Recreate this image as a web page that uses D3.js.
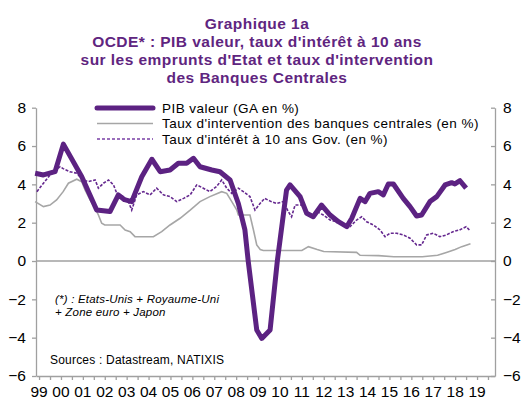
<!DOCTYPE html>
<html>
<head>
<meta charset="utf-8">
<script src="https://cdn.jsdelivr.net/npm/d3@7"></script>
<style>
  body { margin: 0; background: #fff; }
  svg { font-family: 'Liberation Sans', Arial, sans-serif; }
  .title { font-weight: bold; font-size: 15.5px; fill: #5f2580; letter-spacing: 0.45px; }
  .axis text { font-size: 15.5px; fill: #000; }
  .axis path, .axis line { stroke: #a0a0a0; stroke-width: 1.3; }
  .legend { font-size: 13.5px; fill: #000; letter-spacing: 0.45px; }
  .note { font-size: 11.5px; font-style: italic; fill: #000; letter-spacing: 0.2px; }
  .credit { font-size: 12px; fill: #000; letter-spacing: 0.2px; }
</style>
</head>
<body>
<div id="chart"></div>
<script>
var width = 522;
var height = 401;

// PIB valeur (GA en %)
var pibYears = [1998.82, 1999.2, 1999.73, 2000.11, 2000.95, 2001.63, 2002.24, 2002.62, 2002.9, 2003.23,
  2003.69, 2004.15, 2004.53, 2004.98, 2005.36, 2005.74, 2006.05, 2006.35, 2006.89, 2007.26,
  2007.72, 2008.1, 2008.4, 2008.55, 2008.94, 2009.17, 2009.55, 2009.88, 2010.3, 2010.46,
  2010.92, 2011.22, 2011.52, 2011.9, 2012.29, 2012.67, 2013.05, 2013.28, 2013.66, 2013.89,
  2014.11, 2014.49, 2014.72, 2014.95, 2015.18, 2015.63, 2015.94, 2016.24, 2016.47, 2016.85,
  2017.16, 2017.54, 2017.84, 2017.99, 2018.22, 2018.5];
var pibValues = [4.58, 4.49, 4.66, 6.1, 4.4, 2.66, 2.58, 3.45, 3.2, 3.1,
  4.4, 5.31, 4.66, 4.75, 5.1, 5.1, 5.36, 4.92, 4.75, 4.66,
  4.23, 3.0, 1.62, 0.0, -3.6, -4.04, -3.6, 0.0, 3.7, 3.97,
  3.36, 2.49, 2.31, 2.92, 2.4, 2.05, 1.79, 2.23, 3.27, 3.1,
  3.53, 3.62, 3.45, 4.02, 4.02, 3.27, 2.84, 2.35, 2.4, 3.1,
  3.36, 3.97, 4.09, 4.02, 4.19, 3.8];

// Taux d'intervention des banques centrales (en %)
var policyYears = [1998.82, 1999.2, 1999.5, 1999.8, 2000.1, 2000.34, 2000.72, 2000.95, 2001.1, 2001.33,
  2001.56, 2001.71, 2001.86, 2002.0, 2002.7, 2002.93, 2003.16, 2003.38, 2004.22, 2004.6,
  2004.98, 2005.44, 2005.9, 2006.35, 2006.8, 2007.34, 2007.57, 2007.8, 2008.03, 2008.1,
  2008.63, 2008.79, 2008.94, 2009.1, 2009.24, 2011.0, 2011.3, 2011.7, 2012.0, 2013.5,
  2013.66, 2014.5, 2015.2, 2016.5, 2017.2, 2017.6, 2018.0, 2018.3, 2018.7];
var policyValues = [3.1, 2.84, 2.92, 3.19, 3.62, 4.06, 4.27, 4.14, 3.71, 3.19,
  2.75, 2.4, 1.97, 1.88, 1.88, 1.62, 1.53, 1.27, 1.27, 1.53,
  1.88, 2.23, 2.66, 3.1, 3.36, 3.62, 3.53, 3.1, 2.66, 2.4,
  2.4, 1.62, 0.84, 0.6, 0.55, 0.55, 0.75, 0.6, 0.5, 0.45,
  0.3, 0.28, 0.22, 0.22, 0.3, 0.45, 0.6, 0.75, 0.9];

// Taux d'interet a 10 ans Gov. (en %)
var bondYears = [1998.9, 1999.2, 1999.5, 1999.96, 2000.1, 2000.4, 2000.72, 2001.0, 2001.25, 2001.56,
  2001.71, 2001.94, 2002.17, 2002.4, 2002.55, 2002.85, 2003.08, 2003.23, 2003.46, 2003.76,
  2004.07, 2004.37, 2004.68, 2004.98, 2005.29, 2005.6, 2005.9, 2006.2, 2006.5, 2006.8,
  2007.1, 2007.34, 2007.57, 2007.8, 2008.1, 2008.33, 2008.63, 2008.86, 2009.09, 2009.3,
  2009.6, 2009.85, 2010.15, 2010.38, 2010.53, 2010.69, 2010.99, 2011.22, 2011.45, 2011.68,
  2011.98, 2012.29, 2012.6, 2012.9, 2013.2, 2013.5, 2013.73, 2013.96, 2014.27, 2014.57,
  2014.8, 2015.03, 2015.33, 2015.63, 2015.94, 2016.24, 2016.47, 2016.7, 2017.0, 2017.3,
  2017.6, 2017.9, 2018.2, 2018.5, 2018.65];
var bondValues = [3.62, 4.06, 4.49, 4.92, 4.82, 4.66, 4.58, 4.23, 4.14, 4.23,
  3.8, 4.06, 4.23, 3.97, 3.53, 3.36, 3.1, 2.66, 3.45, 3.62,
  3.45, 3.8, 3.45, 3.36, 3.1, 3.27, 3.45, 3.97, 3.8, 3.62,
  3.88, 4.23, 3.8, 3.53, 3.8, 3.62, 3.36, 2.66, 3.0, 3.27,
  3.1, 3.0, 3.1, 2.58, 2.31, 2.92, 2.92, 2.58, 2.4, 2.58,
  2.4, 2.14, 2.05, 1.88, 1.79, 2.14, 2.31, 2.05, 1.88, 1.62,
  1.27, 1.45, 1.45, 1.36, 1.19, 0.84, 0.84, 1.36, 1.45, 1.27,
  1.36, 1.53, 1.62, 1.79, 1.62];

var yearLabels = ['99', '00', '01', '02', '03', '04', '05', '06', '07', '08', '09',
  '10', '11', '12', '13', '14', '15', '16', '17', '18', '19'];
var yTicks = [-6, -4, -2, 0, 2, 4, 6, 8];

var titleLines = ['Graphique 1a',
  "OCDE*  : PIB valeur, taux d'intérêt à 10 ans",
  "sur les emprunts d'Etat et taux d'intervention",
  'des Banques Centrales'];

var legendNames = ['PIB valeur (GA en %)',
  "Taux d'intervention des banques centrales (en %)",
  "Taux d'intérêt à 10 ans Gov. (en %)"];

var svg = d3.select('#chart').append('svg')
  .attr('width', width)
  .attr('height', height);

// scales
var xScale = d3.scaleLinear()
  .domain([1998.86, 2019.82])
  .range([36, 495]);

var yScale = d3.scaleLinear()
  .domain([-6, 8])
  .range([376, 107.7]);

// title
svg.selectAll('.title')
  .data(titleLines)
  .enter()
  .append('text')
  .attr('class', 'title')
  .attr('text-anchor', 'middle')
  .attr('x', 257)
  .attr('y', function(d, i) { return 29 + i * 18; })
  .text(function(d) { return d; });

// axes
var halfYears = d3.range(1999, 2020, 0.5);

var xAxis = d3.axisBottom(xScale)
  .tickValues(halfYears)
  .tickSizeInner(4)
  .tickSizeOuter(0)
  .tickFormat('');

svg.append('g')
  .attr('class', 'axis')
  .attr('transform', 'translate(0,' + yScale(-6) + ')')
  .call(xAxis);

svg.append('g')
  .selectAll('text')
  .data(yearLabels)
  .enter()
  .append('text')
  .style('font-size', '15.5px')
  .attr('text-anchor', 'middle')
  .attr('x', function(d, i) { return xScale(1999 + i); })
  .attr('y', 397)
  .text(function(d) { return d; });

var yAxisLeft = d3.axisLeft(yScale)
  .tickValues(yTicks)
  .tickSizeInner(4)
  .tickSizeOuter(0)
  .tickPadding(6);

svg.append('g')
  .attr('class', 'axis')
  .attr('transform', 'translate(' + xScale.range()[0] + ',0)')
  .call(yAxisLeft);

var yAxisRight = d3.axisRight(yScale)
  .tickValues(yTicks)
  .tickSizeInner(-4)
  .tickSizeOuter(0)
  .tickPadding(8);

svg.append('g')
  .attr('class', 'axis')
  .attr('transform', 'translate(' + xScale.range()[1] + ',0)')
  .call(yAxisRight)
  .selectAll('text')
  .attr('text-anchor', 'start');

// zero line
svg.append('line')
  .attr('x1', xScale.range()[0])
  .attr('x2', xScale.range()[1])
  .attr('y1', yScale(0))
  .attr('y2', yScale(0))
  .attr('stroke', '#a0a0a0')
  .attr('stroke-width', 1.5);

// lines
function toPoints(xs, vs) {
  return xs.map(function(x, i) { return [x, vs[i]]; });
}

var line = d3.line()
  .x(function(d) { return xScale(d[0]); })
  .y(function(d) { return yScale(d[1]); });

svg.append('path')
  .datum(toPoints(policyYears, policyValues))
  .attr('d', line)
  .attr('fill', 'none')
  .attr('stroke', '#a6a6a6')
  .attr('stroke-width', 1.6);

svg.append('path')
  .datum(toPoints(bondYears, bondValues))
  .attr('d', line)
  .attr('fill', 'none')
  .attr('stroke', '#65288f')
  .attr('stroke-width', 1.6)
  .attr('stroke-dasharray', '3,1.5');

svg.append('path')
  .datum(toPoints(pibYears, pibValues))
  .attr('d', line)
  .attr('fill', 'none')
  .attr('stroke', '#5c2282')
  .attr('stroke-width', 5)
  .attr('stroke-linejoin', 'round');

// legend
var legend = svg.selectAll('.legendrow')
  .data(legendNames)
  .enter()
  .append('g')
  .attr('transform', function(d, i) { return 'translate(97,' + (108 + i * 15.5) + ')'; });

legend.append('line')
  .attr('x1', 0)
  .attr('x2', 56)
  .attr('stroke', function(d, i) { return ['#5c2282', '#a6a6a6', '#7a3fa5'][i]; })
  .attr('stroke-width', function(d, i) { return [5, 1.5, 1.6][i]; })
  .attr('stroke-dasharray', function(d, i) { return i === 2 ? '3,2' : null; })
  .attr('stroke-linecap', function(d, i) { return i === 0 ? 'round' : 'butt'; });

legend.append('text')
  .attr('class', 'legend')
  .attr('x', 65)
  .attr('dy', '0.35em')
  .text(function(d) { return d; });

// notes
svg.append('text')
  .attr('class', 'note')
  .attr('x', 55)
  .attr('y', 303)
  .text('(*) : Etats-Unis  + Royaume-Uni');

svg.append('text')
  .attr('class', 'note')
  .attr('x', 55)
  .attr('y', 316)
  .text('+ Zone euro  + Japon');

svg.append('text')
  .attr('class', 'credit')
  .attr('x', 50)
  .attr('y', 364)
  .text('Sources  : Datastream,  NATIXIS');
</script>
</body>
</html>
